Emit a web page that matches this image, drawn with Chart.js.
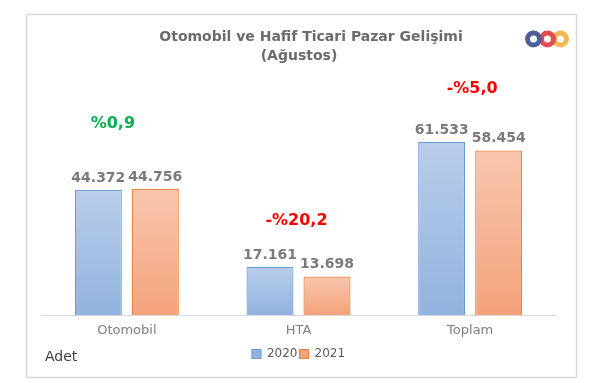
<!DOCTYPE html>
<html>
<head>
<meta charset="utf-8">
<script src="https://cdn.jsdelivr.net/npm/chart.js@4"></script>
<style>
html,body{margin:0;padding:0;background:#fff;}
#wrap{position:relative;width:600px;height:383px;}
canvas{display:block;}
</style>
</head>
<body>
<div id="wrap"><canvas id="c" width="600" height="383"></canvas></div>
<script>
const categories = ["Otomobil", "HTA", "Toplam"];
const seriesNames = ["2020", "2021"];
const values2020 = [44372, 17161, 61533];
const values2021 = [44756, 13698, 58454];
const changeLabels = ["%0,9", "-%20,2", "-%5,0"];
const changeColors = ["#00b050", "#ff0000", "#ff0000"];
const titleLines = ["Otomobil ve Hafif Ticari Pazar Gelişimi", "(Ağustos)"];
const unitLabel = "Adet";

const FONT = "'DejaVu Sans', sans-serif";
const fmt = v => v.toLocaleString('de-DE');

function barGradient(top, bottom) {
  return function(ctx) {
    const chart = ctx.chart;
    const ca = chart.chartArea;
    if (!ca) return top;
    const y = chart.scales.y;
    const v = ctx.raw || 0;
    const y0 = y.getPixelForValue(v);
    const y1 = y.getPixelForValue(0);
    const g = chart.ctx.createLinearGradient(0, y0, 0, y1 + 0.01);
    g.addColorStop(0, top);
    g.addColorStop(1, bottom);
    return g;
  };
}

const decor = {
  id: 'decor',
  beforeDraw(chart) {
    const c = chart.ctx;
    c.save();
    c.fillStyle = '#fff';
    c.fillRect(0, 0, chart.width, chart.height);
    c.strokeStyle = '#d9d9d9';
    c.lineWidth = 1.5;
    c.strokeRect(26.5, 14.5, 550, 363);
    c.restore();
  },
  afterDraw(chart) {
    const c = chart.ctx;
    c.save();
    // title
    c.fillStyle = '#6b6b6b';
    c.font = "bold 14px " + FONT;
    c.textAlign = 'center';
    c.textBaseline = 'middle';
    c.fillText(titleLines[0], 311, 37);
    c.fillText(titleLines[1], 299, 56);
    // unit
    c.fillStyle = '#404040';
    c.font = "14px " + FONT;
    c.textAlign = 'left';
    c.fillText(unitLabel, 45, 357);
    // logo rings
    const rings = [[533.5, '#4e5f99'], [547.5, '#e24b52'], [560.5, '#f6b84f']];
    c.lineWidth = 5;
    for (let i = rings.length - 1; i >= 0; i--) {
      c.strokeStyle = rings[i][1];
      c.beginPath();
      c.arc(rings[i][0], 39, 6, 0, Math.PI * 2);
      c.stroke();
    }
    // value labels
    const xs = chart.scales.x, ys = chart.scales.y;
    c.font = "bold 14px " + FONT;
    c.fillStyle = '#7a7a7a';
    c.textAlign = 'center';
    c.textBaseline = 'alphabetic';
    chart.data.datasets.forEach((ds, di) => {
      const meta = chart.getDatasetMeta(di);
      meta.data.forEach((bar, i) => {
        c.fillText(fmt(ds.data[i]), bar.x, bar.y - 8);
      });
    });
    // change labels
    const offs = [[-14, -65], [-2, -46], [2, -53]];
    c.font = "bold 16px " + FONT;
    c.textBaseline = 'middle';
    categories.forEach((cat, i) => {
      const cx = xs.getPixelForValue(i);
      const top = ys.getPixelForValue(Math.max(values2020[i], values2021[i]));
      c.fillStyle = changeColors[i];
      c.fillText(changeLabels[i], cx + offs[i][0], top + offs[i][1]);
    });
    c.restore();
  }
};

new Chart(document.getElementById('c'), {
  type: 'bar',
  data: {
    labels: categories,
    datasets: [
      {
        label: seriesNames[0],
        data: values2020,
        backgroundColor: barGradient('#b8cdea', '#92b3de'),
        borderColor: '#6b9bd4',
        borderWidth: 1.2,
        borderSkipped: 'bottom'
      },
      {
        label: seriesNames[1],
        data: values2021,
        backgroundColor: barGradient('#f8c6ad', '#f4a27b'),
        borderColor: '#e9823f',
        borderWidth: 1.2,
        borderSkipped: 'bottom'
      }
    ]
  },
  options: {
    responsive: false,
    animation: false,
    devicePixelRatio: 1,
    layout: { padding: { top: 118, left: 41, right: 44, bottom: 13 } },
    datasets: { bar: { categoryPercentage: 0.664, barPercentage: 0.825 } },
    scales: {
      x: {
        grid: { display: false, drawTicks: false },
        border: { display: true, color: '#d9d9d9', width: 1 },
        ticks: { color: '#7f7f7f', font: { family: FONT, size: 13, lineHeight: 1 }, padding: 9 }
      },
      y: { display: false, min: 0, max: 70000 }
    },
    plugins: {
      legend: {
        position: 'bottom',
        labels: {
          boxWidth: 9, boxHeight: 9, padding: 2,
          color: '#595959',
          font: { family: FONT, size: 12 }
        }
      },
      tooltip: { enabled: false },
      title: { display: false }
    }
  },
  plugins: [decor]
});
</script>
</body>
</html>
